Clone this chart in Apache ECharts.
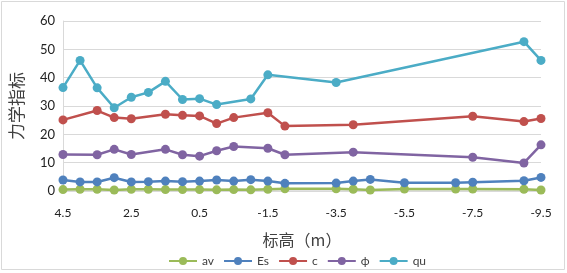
<!DOCTYPE html>
<html>
<head>
<meta charset="utf-8">
<script src="https://cdn.jsdelivr.net/npm/echarts@6/dist/echarts.min.js"></script>
<style>
  html, body { margin: 0; padding: 0; background: #fff; }
  #chart { width: 567px; height: 273px; }
</style>
</head>
<body>
<div id="chart"></div>
<script>
// 标高 (m) for each series
const elevAvEs = [4.5, 4.0, 3.5, 3.0, 2.5, 2.0, 1.5, 1.0, 0.5, 0.0, -0.5, -1.0, -1.5, -2.0, -3.5, -4.0, -4.5, -5.5, -7.0, -7.5, -9.0, -9.5];
const elevCPhi = [4.5, 3.5, 3.0, 2.5, 1.5, 1.0, 0.5, 0.0, -0.5, -1.5, -2.0, -4.0, -7.5, -9.0, -9.5];
const elevQu = [4.5, 4.0, 3.5, 3.0, 2.5, 2.0, 1.5, 1.0, 0.5, 0.0, -1.0, -1.5, -3.5, -9.0, -9.5];

const av = [0.5, 0.6, 0.6, 0.35, 0.6, 0.6, 0.5, 0.5, 0.5, 0.4, 0.5, 0.4, 0.6, 0.8, 0.8, 0.6, 0.35, 0.7, 0.7, 0.7, 0.6, 0.35];
const es = [3.9, 3.2, 3.2, 4.7, 3.2, 3.3, 3.5, 3.3, 3.5, 3.9, 3.5, 4.0, 3.5, 2.7, 2.8, 3.5, 4.1, 2.9, 2.9, 3.1, 3.6, 4.8];
const c = [25.1, 28.4, 25.9, 25.5, 27.1, 26.7, 26.5, 23.8, 25.9, 27.6, 22.9, 23.4, 26.4, 24.5, 25.6];
const phi = [12.9, 12.8, 14.7, 12.9, 14.7, 12.8, 12.3, 14.2, 15.7, 15.1, 12.8, 13.7, 11.9, 9.9, 16.3];
const qu = [36.5, 46.1, 36.4, 29.4, 33.1, 34.8, 38.7, 32.3, 32.6, 30.5, 32.5, 41.0, 38.3, 52.7, 46.1];

const seriesNames = ['av', 'Es', 'c', 'ϕ', 'qu'];
const colors = ['#9BBB59', '#4F81BD', '#C0504D', '#8064A2', '#4BACC6'];

const pair = (xs, ys) => xs.map((x, i) => [x, ys[i]]);

const chart = echarts.init(document.getElementById('chart'));

const lineSeries = (name, data) => ({
  name: name,
  type: 'line',
  data: data,
  symbol: 'circle',
  symbolSize: 9,
  lineStyle: { width: 2.5 },
  emphasis: { disabled: true }
});

const option = {
  animation: false,
  color: colors,
  textStyle: { fontFamily: 'Lato, "Noto Sans CJK SC", sans-serif' },
  graphic: [{
    type: 'rect',
    shape: { x: 1.5, y: 1.5, width: 563, height: 268 },
    style: { fill: 'none', stroke: '#D9D9D9', lineWidth: 1 },
    silent: true
  }],
  grid: { left: 58, right: 26, top: 21, bottom: 82 },
  legend: {
    data: seriesNames,
    top: 250,
    left: 163,
    itemWidth: 28,
    itemHeight: 10,
    itemGap: 9,
    textStyle: { fontSize: 12, color: '#404040' }
  },
  xAxis: {
    type: 'value',
    inverse: true,
    min: -9.5,
    max: 4.5,
    interval: 2,
    name: '标高（m）',
    nameLocation: 'middle',
    nameGap: 41,
    nameTextStyle: { fontSize: 16, color: '#404040', fontFamily: '"Noto Sans CJK SC"' },
    axisLine: { onZero: false, lineStyle: { color: '#D9D9D9', width: 1.5 } },
    axisTick: { show: false },
    splitLine: { show: false },
    axisLabel: { fontSize: 12, color: '#222', margin: 16 }
  },
  yAxis: {
    type: 'value',
    min: 0,
    max: 60,
    interval: 10,
    name: '力学指标',
    nameLocation: 'middle',
    nameGap: 38,
    nameRotate: 90,
    nameTextStyle: { fontSize: 17, color: '#404040', fontFamily: '"Noto Sans CJK SC"' },
    axisLine: { show: true, onZero: false, lineStyle: { color: '#D9D9D9' } },
    axisTick: { show: false },
    splitLine: { lineStyle: { color: '#D9D9D9' } },
    axisLabel: { fontSize: 13, color: '#222', margin: 8 }
  },
  series: [
    lineSeries('av', pair(elevAvEs, av)),
    lineSeries('Es', pair(elevAvEs, es)),
    lineSeries('c', pair(elevCPhi, c)),
    lineSeries('ϕ', pair(elevCPhi, phi)),
    lineSeries('qu', pair(elevQu, qu))
  ]
};

chart.setOption(option);
</script>
</body>
</html>
